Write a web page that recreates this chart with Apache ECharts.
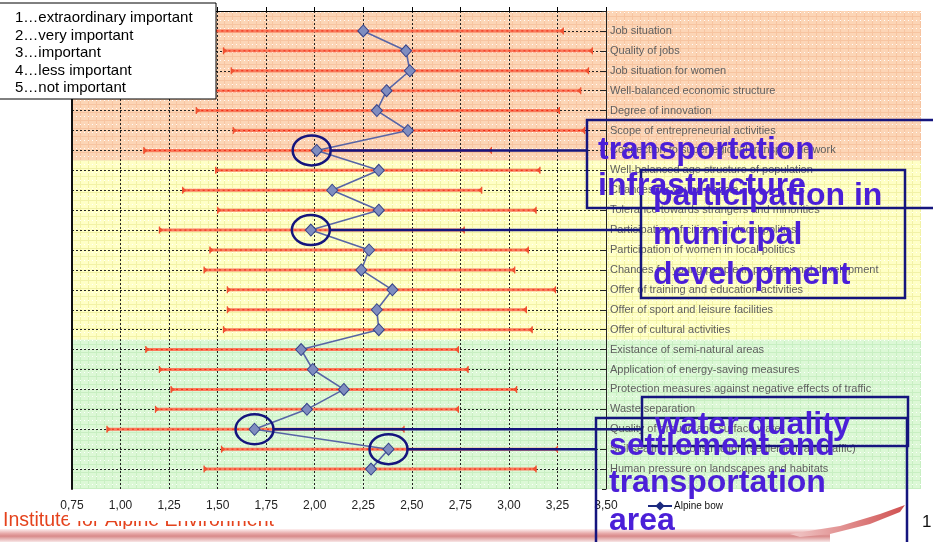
<!DOCTYPE html>
<html><head><meta charset="utf-8">
<script src="https://cdn.jsdelivr.net/npm/echarts@6/dist/echarts.min.js"></script>
<style>html,body{margin:0;padding:0;background:#fff;} #c{width:933px;height:542px;}</style>
</head><body><div id="c"></div>
<script>
// ---------- data ----------
const categories = [
  'Job situation',
  'Quality of jobs',
  'Job situation for women',
  'Well-balanced economic structure',
  'Degree of innovation',
  'Scope of entrepreneurial activities',
  'Connection to superregional transport network',
  'Well-balanced age structure of population',
  'Chances for young people',
  'Tolerance towards strangers and minorities',
  'Participation of citizens in local politics',
  'Participation of women in local politics',
  'Chances for young people in professional development',
  'Offer of training and education activities',
  'Offer of sport and leisure facilities',
  'Offer of cultural activities',
  'Existance of semi-natural areas',
  'Application of energy-saving measures',
  'Protection measures against negative effects of traffic',
  'Waste separation',
  'Quality of ground and surface water',
  'Soil sealing by construction (settlement and traffic)',
  'Human pressure on landscapes and habitats'
];
const meanValues = [2.25, 2.47, 2.49, 2.37, 2.32, 2.48, 2.01, 2.33, 2.09, 2.33, 1.98, 2.28, 2.24, 2.40, 2.32, 2.33, 1.93, 1.99, 2.15, 1.96, 1.69, 2.38, 2.29];
const lowValues  = [1.21, 1.53, 1.57, 1.37, 1.39, 1.58, 1.12, 1.49, 1.32, 1.50, 1.20, 1.46, 1.43, 1.55, 1.55, 1.53, 1.13, 1.20, 1.26, 1.18, 0.93, 1.52, 1.43];
const highValues = [3.28, 3.43, 3.41, 3.37, 3.26, 3.39, 2.91, 3.16, 2.86, 3.14, 2.77, 3.10, 3.03, 3.24, 3.09, 3.12, 2.74, 2.79, 3.04, 2.74, 2.46, 3.25, 3.14];
const xMin = 0.75, xMax = 3.5, xStep = 0.25;
const seriesName = 'Alpine bow';
const scaleLegend = ['1…extraordinary important', '2…very important', '3…important', '4…less important', '5…not important'];
const annotationRows = [7, 11, 21, 22];
const annotationTexts = [
  ['transportation', 'infrastructure'],
  ['participation in', 'municipal', 'development'],
  ['water quality'],
  ['settlement and', 'transportation', 'area']
];
const footerText = 'Institute for Alpine Environment';

// ---------- chart ----------
const FONT = '"Liberation Sans", Arial, sans-serif';
const chart = echarts.init(document.getElementById('c'), null, {renderer: 'canvas'});
const nRows = categories.length;
const rowMax = nRows + 1;

const whiskerData = categories.map((c, i) => [lowValues[i], highValues[i], i + 1]);
const meanData = categories.map((c, i) => [meanValues[i], i + 1]);

const option = {
  animation: false,
  grid: {left: 72, right: 327, top: 11, bottom: 53, containLabel: false},
  xAxis: [{
    type: 'value', min: xMin, max: xMax, interval: xStep, position: 'bottom',
    axisLine: {show: false}, axisTick: {show: false},
    axisLabel: {formatter: v => v.toFixed(2).replace('.', ','), color: '#222', fontSize: 12, fontFamily: FONT, margin: 11},
    splitLine: {show: true, lineStyle: {color: '#222', type: [2, 2], width: 1}}
  }, {
    type: 'value', min: xMin, max: xMax, interval: xStep, position: 'top',
    axisLine: {show: true, lineStyle: {color: '#000', width: 1}},
    axisTick: {show: true, length: 4, lineStyle: {color: '#000'}},
    axisLabel: {show: false}, splitLine: {show: false}
  }],
  yAxis: [{
    type: 'value', min: 0, max: rowMax, interval: 1, inverse: true, position: 'left',
    axisLine: {show: true, lineStyle: {color: '#111', width: 2}},
    axisTick: {show: false}, axisLabel: {show: false},
    splitLine: {show: true, showMinLine: false, showMaxLine: false, lineStyle: {color: '#222', type: [2, 2], width: 1}}
  }, {
    type: 'value', min: 0, max: rowMax, interval: 1, inverse: true, position: 'right',
    axisLine: {show: true, lineStyle: {color: '#222', width: 1}},
    axisTick: {show: true, inside: true, length: 4, lineStyle: {color: '#222'}},
    axisLabel: {
      formatter: v => (v >= 1 && v <= nRows) ? categories[v - 1] : '',
      color: '#5e5e5e', fontSize: 11, fontFamily: FONT, margin: 4, align: 'left'
    },
    splitLine: {show: false}
  }],
  legend: {
    left: 647, top: 501, padding: 0, itemWidth: 24, itemHeight: 8, itemGap: 2,
    textStyle: {fontSize: 10, fontFamily: FONT, color: '#111', padding: [0, 0, 0, -3]},
    data: [{name: seriesName, itemStyle: {color: '#1c2a80', borderColor: '#1c2a80'}, lineStyle: {color: '#1c2a80', width: 2}}]
  },
  series: [{
    type: 'custom', name: 'range', xAxisIndex: 0, yAxisIndex: 0, z: 3,
    encode: {x: [0, 1], y: 2},
    data: whiskerData,
    renderItem: function (params, api) {
      const y = api.value(2);
      const p1 = api.coord([api.value(0), y]);
      const p2 = api.coord([api.value(1), y]);
      const c = '#f05030';
      return {
        type: 'group',
        children: [
          {type: 'line', shape: {x1: p1[0], y1: p1[1], x2: p2[0], y2: p2[1]}, style: {stroke: '#fa7a5c', lineWidth: 3}},
          {type: 'line', shape: {x1: p1[0], y1: p1[1], x2: p2[0], y2: p2[1]}, style: {stroke: '#f02810', lineWidth: 1, lineDash: [2, 3]}},
          {type: 'line', shape: {x1: p1[0], y1: p1[1] - 3.5, x2: p1[0], y2: p1[1] + 3.5}, style: {stroke: c, lineWidth: 1.2}},
          {type: 'polygon', shape: {points: [[p1[0], p1[1] - 3], [p1[0] + 4, p1[1]], [p1[0], p1[1] + 3]]}, style: {fill: c}},
          {type: 'line', shape: {x1: p2[0], y1: p2[1] - 3.5, x2: p2[0], y2: p2[1] + 3.5}, style: {stroke: c, lineWidth: 1.2}},
          {type: 'polygon', shape: {points: [[p2[0], p2[1] - 3], [p2[0] - 4, p2[1]], [p2[0], p2[1] + 3]]}, style: {fill: c}}
        ]
      };
    }
  }, {
    type: 'line', name: seriesName, xAxisIndex: 0, yAxisIndex: 0, z: 5,
    data: meanData,
    symbol: 'diamond', symbolSize: [11, 12],
    lineStyle: {color: '#5865a6', width: 1.6},
    itemStyle: {color: '#7f8dbf', borderColor: '#34428a', borderWidth: 1}
  }]
};
chart.setOption(option);

// ---------- decorations ----------
function px(x, y) { return chart.convertToPixel({xAxisIndex: 0, yAxisIndex: 0}, [x, y]); }
function tile(base, line) {
  const c = document.createElement('canvas');
  c.width = 8; c.height = 8;
  const g = c.getContext('2d');
  g.fillStyle = base; g.fillRect(0, 0, 8, 8);
  g.fillStyle = line; g.fillRect(0, 0, 8, 1); g.fillRect(0, 0, 1, 8);
  g.fillStyle = 'rgba(255,255,255,0.95)'; g.fillRect(4, 4, 1, 1); g.fillRect(0, 4, 1, 1);
  return c;
}
const top0 = px(xMin, 0)[1], b1 = px(xMin, 7.5)[1], b2 = px(xMin, 16.5)[1], bot = px(xMin, rowMax)[1];
const xL = px(xMin, 0)[0], xR = 921;

const NAVY = '#15157e', VIOLET = '#4b1fd8';
const g = [];
// footer
g.push({type: 'text', x: 3, y: 521, z: -60, style: {text: footerText, fill: '#e5421c', font: '19.5px ' + FONT, verticalAlign: 'middle'}});
g.push({type: 'rect', z: -55, shape: {x: 68, y: 400, width: 740, height: 121}, style: {fill: '#fff'}});
g.push({type: 'rect', z: -60, shape: {x: 0, y: 529, width: 830, height: 13}, style: {fill: {type: 'linear', x: 0, y: 0, x2: 0, y2: 1, colorStops: [{offset: 0, color: '#fdf0f0'}, {offset: 0.35, color: '#e7a8a8'}, {offset: 0.55, color: '#d88a8a'}, {offset: 1, color: '#f8e6e6'}]}}});
g.push({type: 'polygon', z: -60, shape: {points: [[790, 534], [840, 526], [880, 514], [905, 505], [900, 512], [870, 524], [830, 534], [800, 537]]}, style: {fill: {type: 'linear', x: 0, y: 0, x2: 1, y2: 0, colorStops: [{offset: 0, color: '#f0c8c8'}, {offset: 1, color: '#d05050'}]}}});
g.push({type: 'text', x: 922, y: 522, z: -60, style: {text: '1', fill: '#111', font: '17px ' + FONT, verticalAlign: 'middle'}});
// bands
g.push({type: 'rect', z: -20, shape: {x: xL, y: top0, width: xR - xL, height: b1 - top0}, style: {fill: {image: tile('#fcd5b6', '#f7c4a0'), repeat: 'repeat'}}});
g.push({type: 'rect', z: -20, shape: {x: xL, y: b1, width: xR - xL, height: b2 - b1}, style: {fill: {image: tile('#ffffc6', '#f2f2a6'), repeat: 'repeat'}}});
g.push({type: 'rect', z: -20, shape: {x: xL, y: b2, width: xR - xL, height: bot - b2}, style: {fill: {image: tile('#dcf8d6', '#c8efc2'), repeat: 'repeat'}}});

// scale legend box
g.push({type: 'rect', z: 100, shape: {x: -2, y: 3, width: 218, height: 96}, style: {fill: '#fff', stroke: '#000', lineWidth: 1}});
scaleLegend.forEach((t, i) => {
  g.push({type: 'text', z: 101, x: 15, y: 18 + i * 17.5, style: {text: t, fill: '#000', font: '15px ' + FONT, verticalAlign: 'middle'}});
});

// annotations
const boxLeft = [587, 641, 642, 596];
const boxes = [[587, 120, 360, 88], [641, 170, 264, 128], [642, 397, 266, 49], [596, 418, 311, 140]];
const textPos = [[598, 150, 36], [653, 196, 39.5], [655, 425, 0], [609, 446, 37.5]];
annotationRows.forEach((r, k) => {
  const p = px(meanValues[r - 1], r);
  const rx = 19, ry = 15;
  const cx = k === 0 ? p[0] - 5 : p[0];
  g.push({type: 'ellipse', z: 110, shape: {cx: cx, cy: p[1], rx: rx, ry: ry}, style: {fill: 'none', stroke: NAVY, lineWidth: 2.5}});
  g.push({type: 'line', z: 110, shape: {x1: cx + rx, y1: p[1], x2: boxLeft[k], y2: p[1]}, style: {stroke: NAVY, lineWidth: 2.5}});
  const b = boxes[k];
  g.push({type: 'rect', z: 110, shape: {x: b[0], y: b[1], width: b[2], height: b[3]}, style: {fill: 'none', stroke: NAVY, lineWidth: 2.5}});
  const tp = textPos[k];
  annotationTexts[k].forEach((t, j) => {
    g.push({type: 'text', z: 111, x: tp[0], y: tp[1] + j * tp[2], style: {text: t, fill: VIOLET, font: 'bold 32px ' + FONT, verticalAlign: 'middle'}});
  });
});
chart.setOption({graphic: {elements: g}});
</script>
</body></html>
